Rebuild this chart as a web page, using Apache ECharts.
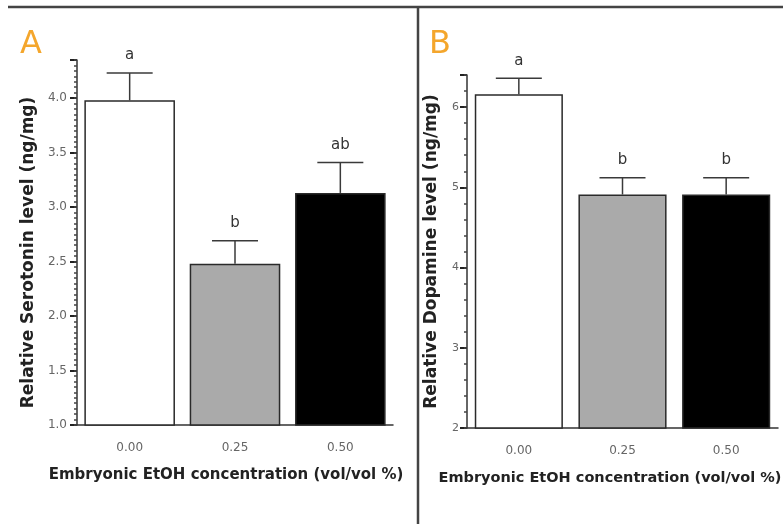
<!DOCTYPE html>
<html lang="en">
<head>
  <meta charset="UTF-8" />
  <title>Embryonic EtOH - serotonin and dopamine</title>
  <script src="https://cdn.jsdelivr.net/npm/echarts@6.0.0/dist/echarts.min.js"></script>
  <style>
    html, body { margin: 0; padding: 0; background: #fff; }
    #chart { width: 783px; height: 524px; }
  </style>
</head>
<body>
  <div id="chart"></div>
  <script>
    // data
    const concentrations = ['0.00', '0.25', '0.50'];

    const serotoninMean = [3.98, 2.48, 3.13];
    const serotoninSem = [0.25, 0.21, 0.28];
    const serotoninLetters = ['a', 'b', 'ab'];
    const serotoninTicks = [1.0, 1.5, 2.0, 2.5, 3.0, 3.5, 4.0];

    const dopamineMean = [6.16, 4.91, 4.91];
    const dopamineSem = [0.20, 0.21, 0.21];
    const dopamineLetters = ['a', 'b', 'b'];
    const dopamineTicks = [2, 3, 4, 5, 6];

    const barColors = ['#ffffff', '#aaaaaa', '#000000'];
    const FONT = 'DejaVu Sans';
    const AXIS_COLOR = '#333';

    const chart = echarts.init(document.getElementById('chart'));

    function barData(means) {
      return means.map((v, i) => ({
        value: v,
        itemStyle: { color: barColors[i] }
      }));
    }

    // error bar + significance letter
    function errorSeries(means, sems, letters, xi, yi) {
      return {
        type: 'custom',
        xAxisIndex: xi,
        yAxisIndex: yi,
        z: 5,
        data: means.map((m, i) => [i, m, m + sems[i]]),
        renderItem: function (params, api) {
          const base = api.coord([api.value(0), api.value(1)]);
          const top = api.coord([api.value(0), api.value(2)]);
          const style = { stroke: '#3a3a3a', lineWidth: 1.5 };
          return {
            type: 'group',
            children: [
              { type: 'line', shape: { x1: base[0], y1: base[1], x2: top[0], y2: top[1] }, style: style },
              { type: 'line', shape: { x1: top[0] - 23, y1: top[1], x2: top[0] + 23, y2: top[1] }, style: style },
              {
                type: 'text',
                x: top[0], y: top[1] - 10,
                style: {
                  text: letters[params.dataIndex],
                  fill: '#333', font: '15px "' + FONT + '"',
                  textAlign: 'center', textVerticalAlign: 'bottom'
                }
              }
            ]
          };
        }
      };
    }

    function xAxisFor(gridIndex, nameSize, padRight) {
      return {
        type: 'category',
        gridIndex: gridIndex,
        data: concentrations,
        axisLine: { lineStyle: { color: AXIS_COLOR, width: 1.5 } },
        axisTick: { alignWithLabel: true, length: 4, lineStyle: { color: AXIS_COLOR, width: 1.5 } },
        axisLabel: { color: '#666', fontFamily: FONT, fontSize: 12, margin: 17 },
        name: 'Embryonic EtOH concentration (vol/vol %)',
        nameLocation: 'middle',
        nameGap: 43,
        nameTextStyle: {
          color: '#222', fontFamily: FONT, fontWeight: 'bold', fontSize: nameSize,
          padding: [0, padRight, 0, 0]
        }
      };
    }

    function majorY(gridIndex, min, max, step, ticks, name, nameGap, padEnd, labelSize, labelMargin, fmt) {
      return {
        type: 'value',
        gridIndex: gridIndex,
        position: 'left',
        min: min,
        max: max,
        interval: step,
        splitLine: { show: false },
        axisLine: { show: true, lineStyle: { color: AXIS_COLOR, width: 1.5 } },
        axisTick: { show: true, length: 7, lineStyle: { color: '#222', width: 2 } },
        axisLabel: { customValues: ticks, formatter: fmt, color: '#666', fontFamily: FONT, fontSize: labelSize, margin: labelMargin },
        name: name,
        nameLocation: 'middle',
        nameGap: nameGap,
        nameTextStyle: {
          color: '#222', fontFamily: FONT, fontWeight: 'bold', fontSize: 17,
          padding: [0, padEnd, 0, 0]
        }
      };
    }

    function minorY(gridIndex, min, max, step) {
      return {
        type: 'value',
        gridIndex: gridIndex,
        position: 'left',
        min: min,
        max: max,
        interval: step,
        splitLine: { show: false },
        axisLine: { show: false },
        axisLabel: { show: false },
        axisTick: { show: true, length: 3, lineStyle: { color: '#444', width: 1.5 } }
      };
    }

    const option = {
      animation: false,
      backgroundColor: '#fff',
      grid: [
        { left: 77, top: 60, width: 316, height: 365, outerBoundsMode: 'none' },
        { left: 467, top: 75, width: 311, height: 353, outerBoundsMode: 'none' }
      ],
      xAxis: [xAxisFor(0, 15, 18), xAxisFor(1, 14.5, 25)],
      yAxis: [
        majorY(0, 1, 4.35, 0.5, serotoninTicks, 'Relative Serotonin level (ng/mg)', 40, 20, 12, 10, v => v.toFixed(1)),
        majorY(1, 2, 6.4, 1, dopamineTicks, 'Relative Dopamine level (ng/mg)', 27, 0, 11, 8, v => String(Math.round(v))),
        minorY(0, 1, 4.35, 0.05),
        minorY(1, 2, 6.4, 0.2)
      ],
      graphic: [
        { type: 'line', shape: { x1: 8, y1: 7, x2: 783, y2: 7 }, style: { stroke: '#444', lineWidth: 2.5 } },
        { type: 'line', shape: { x1: 418, y1: 7, x2: 418, y2: 524 }, style: { stroke: '#444', lineWidth: 2.5 } },
        { type: 'text', x: 31, y: 45, style: { text: 'A', fill: '#f4a62c', font: '32px "' + FONT + '"', textAlign: 'center', textVerticalAlign: 'middle' } },
        { type: 'text', x: 440, y: 45, style: { text: 'B', fill: '#f4a62c', font: '32px "' + FONT + '"', textAlign: 'center', textVerticalAlign: 'middle' } }
      ],
      series: [
        {
          type: 'bar',
          xAxisIndex: 0, yAxisIndex: 0,
          barWidth: '86%',
          data: barData(serotoninMean),
          itemStyle: { borderColor: '#2a2a2a', borderWidth: 1.5 }
        },
        errorSeries(serotoninMean, serotoninSem, serotoninLetters, 0, 0),
        {
          type: 'bar',
          xAxisIndex: 1, yAxisIndex: 1,
          barWidth: '85%',
          data: barData(dopamineMean),
          itemStyle: { borderColor: '#2a2a2a', borderWidth: 1.5 }
        },
        errorSeries(dopamineMean, dopamineSem, dopamineLetters, 1, 1)
      ]
    };

    chart.setOption(option);
  </script>
</body>
</html>
